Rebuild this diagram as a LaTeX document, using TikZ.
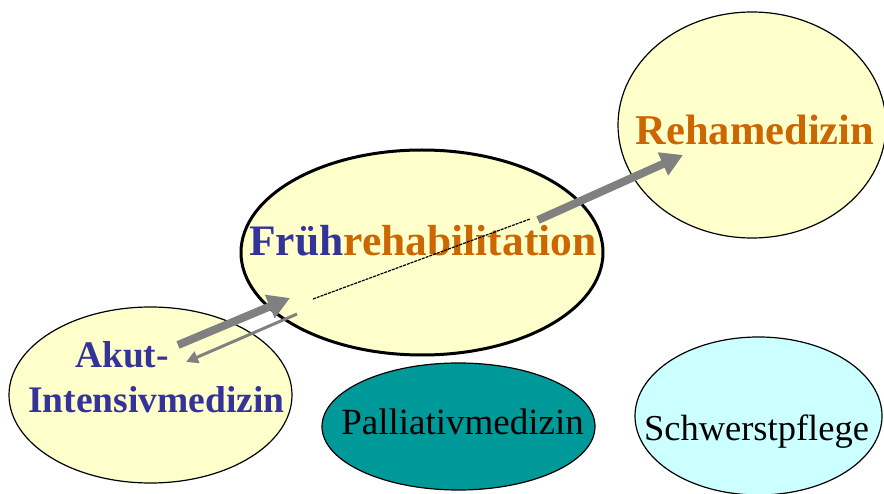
\documentclass[tikz,border=0pt]{standalone}
\usepackage{fontspec}
\setmainfont{Liberation Serif}
\usepackage{tikz}
\usetikzlibrary{positioning}
\usetikzlibrary{shapes.geometric,arrows.meta}
\usepackage{xcolor}
\definecolor{myyellow}{RGB}{255,255,204}
\definecolor{myteal}{RGB}{0,153,153}
\definecolor{mycyan}{RGB}{204,255,255}
\definecolor{myblue}{RGB}{51,51,153}
\definecolor{myorange}{RGB}{204,102,0}
\definecolor{mygrey}{RGB}{128,128,128}
\pgfkeys{tikz/myellipse/.style={ellipse,draw,inner sep=0pt,line width=1.2pt}}
\pgfkeys{tikz/mybigarrow/.style={draw=mygrey,line width=8pt,-{Triangle[length=22pt,width=24pt]}}}
\pgfkeys{tikz/mysmallarrow/.style={draw=mygrey,line width=3pt,-{Triangle[length=12pt,width=12pt]}}}
\pgfkeys{tikz/myboldtext/.style={anchor=base,inner sep=0pt,font=\bfseries\fontsize{42.5}{46}\selectfont}}
\pgfkeys{tikz/myplaintext/.style={anchor=base,inner sep=0pt,font=\fontsize{37}{40}\selectfont}}

\begin{document}
\begin{tikzpicture}[x=1pt,y=-1pt]
	\useasboundingbox (0,0) rectangle (884,494);

	\node[myellipse,fill=myyellow,minimum width=268pt,minimum height=226pt] (reha) at (752,125) {};
	\node[myellipse,fill=myyellow,minimum width=283pt,minimum height=176pt] (akut) at (150.5,395) {};
	\node[myellipse,fill=myyellow,line width=3pt,minimum width=362pt,minimum height=205pt] (frueh) at (422,252.5) {};
	\node[myellipse,fill=myteal,minimum width=273pt,minimum height=127pt] (palli) at (458.5,426.5) {};
	\node[myellipse,fill=mycyan,minimum width=247pt,minimum height=158pt] (schwer) at (758.5,416) {};

	\node[myboldtext,text=myorange] (reha-text) at (755,145) {Rehamedizin};
	\node[myboldtext,font=\bfseries\fontsize{43.5}{46}\selectfont] (frueh-text) at (423,256) {\textcolor{myblue}{Früh}\textcolor{myorange}{rehabilitation}};
	\node[myboldtext,font=\bfseries\fontsize{37.5}{40}\selectfont,text=myblue] (akut-text1) at (122,368) {Akut-};
	\node[myboldtext,font=\bfseries\fontsize{37.5}{40}\selectfont,text=myblue] (akut-text2) at (156.5,413) {Intensivmedizin};
	\node[myplaintext] (palli-text) at (462.5,435) {Palliativmedizin};
	\node[myplaintext,font=\fontsize{36.5}{40}\selectfont] (schwer-text) at (756.5,440) {Schwerstpflege};

	\coordinate (akut-out) at (178,345);
	\coordinate (frueh-in) at (290,298);
	\coordinate (frueh-back) at (297,314);
	\coordinate (akut-in) at (186,362);
	\coordinate (frueh-mid1) at (313,299);
	\coordinate (frueh-mid2) at (530,219);
	\coordinate (frueh-out) at (538,220);
	\coordinate (reha-in) at (683,155);

	\draw[mybigarrow] (akut-out) -- (frueh-in);
	\draw[mysmallarrow] (frueh-back) -- (akut-in);
	\draw[line width=1.2pt,dash pattern=on 3pt off 1pt] (frueh-mid1) -- (frueh-mid2);
	\draw[mybigarrow] (frueh-out) -- (reha-in);

\end{tikzpicture}
\end{document}
